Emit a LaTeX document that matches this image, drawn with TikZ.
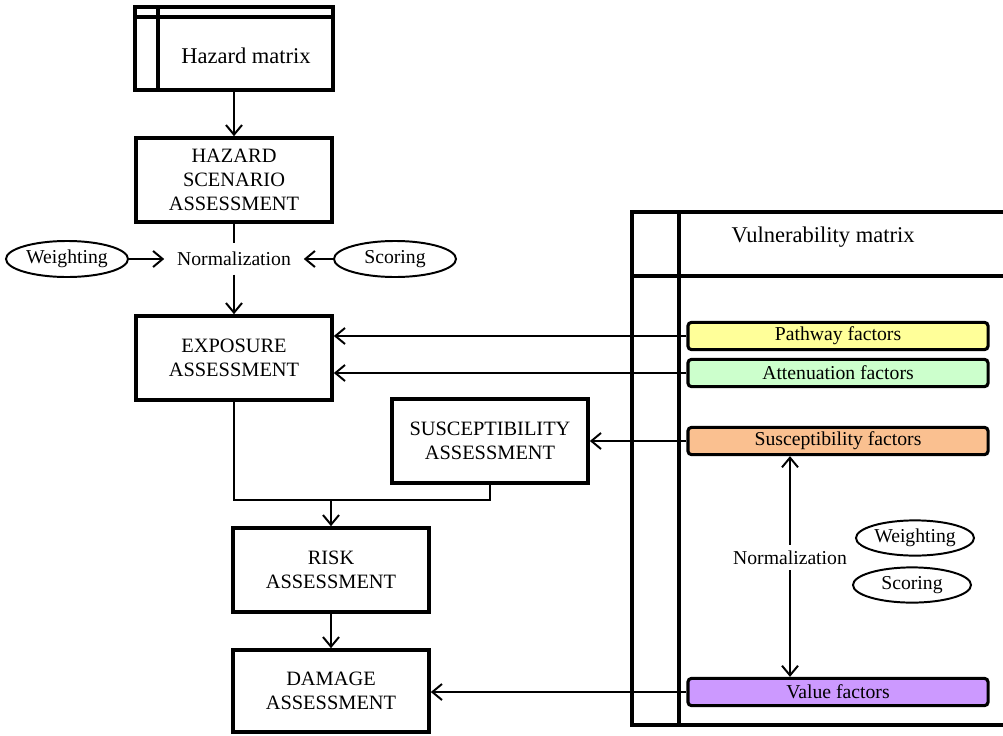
\documentclass[tikz,border=0pt]{standalone}
\usepackage{fontspec}
\setmainfont{Liberation Serif}
\usetikzlibrary{arrows.meta,shapes.geometric}
\definecolor{pathyellow}{RGB}{255,255,153}
\definecolor{attgreen}{RGB}{204,255,204}
\definecolor{susorange}{RGB}{250,192,144}
\definecolor{valpurple}{RGB}{204,153,255}

\begin{document}
\begin{tikzpicture}[x=0.025cm,y=-0.025cm,
  line/.style={line width=1.4pt,>={Straight Barb[length=2.4mm,width=4mm]}},
  frame/.style={line width=2.6pt},
  box/.style={rectangle,draw=black,line width=2.6pt,minimum width=4.9cm,minimum height=2.1cm,align=center,inner sep=0pt,font=\fontsize{14.5}{17}\selectfont},
  fac/.style={rectangle,rounded corners=2.5pt,draw=black,line width=2.2pt,minimum width=7.5cm,minimum height=0.68cm,inner sep=0pt,font=\fontsize{14}{16}\selectfont},
  ov/.style={ellipse,draw=black,line width=1.4pt,minimum width=3.05cm,minimum height=0.9cm,inner sep=0pt,font=\fontsize{14}{16}\selectfont},
  lbl/.style={fill=white,inner xsep=9pt,inner ysep=6pt,font=\fontsize{14}{16}\selectfont},
  ttl/.style={font=\fontsize{16}{18}\selectfont}]
\useasboundingbox (0,0) rectangle (1003,735);

% hazard side
\node[box,minimum width=4.95cm,minimum height=2.075cm] (hm) at (234,48.5) {};
\draw[frame] ([xshift=0.625cm]hm.north west) -- ([xshift=0.625cm]hm.south west);
\draw[frame] ([yshift=-0.3cm]hm.north west) -- ([yshift=-0.3cm]hm.north east);
\node[ttl] (hmt) at (246,56) {Hazard matrix};

\node[box] (hsa) at (234,180) {HAZARD\\SCENARIO\\ASSESSMENT};
\node[lbl] (norm) at (234,259) {Normalization};
\node[ov] (wl) at (67,259) {Weighting};
\node[ov] (sl) at (395,259) {Scoring};
\node[box] (exp) at (234,358) {EXPOSURE\\ASSESSMENT};
\node[box] (sus) at (490,441) {SUSCEPTIBILITY\\ASSESSMENT};
\node[box] (risk) at (331,570) {RISK\\ASSESSMENT};
\node[box,minimum height=2.05cm] (dam) at (331,691) {DAMAGE\\ASSESSMENT};
\coordinate (j) at (331,500);

\draw[line,->] (hm) -- (hsa);
\draw[line] (hsa) -- (norm);
\draw[line,->] (norm) -- (exp);
\draw[line,->] (wl) -- (norm);
\draw[line,->] (sl) -- (norm);
\draw[line] (exp.south) |- (j) -| (sus.south);
\draw[line,->] (j) -- (risk);
\draw[line,->] (risk) -- (dam);

% vulnerability matrix
\draw[frame] (1003,212) -- (632,212) -- (632,725) -- (1003,725);
\draw[frame] (679,212) -- (679,725);
\draw[frame] (632,276) -- (1003,276);
\node[ttl] (vmt) at (823,237) {Vulnerability matrix};

\node[fac,fill=pathyellow] (pf) at (838,336) {Pathway factors};
\node[fac,fill=attgreen] (af) at (838,373) {Attenuation factors};
\node[fac,fill=susorange] (sf) at (838,441) {Susceptibility factors};
\node[fac,fill=valpurple] (vf) at (838,692) {Value factors};
\node[ov,minimum width=2.95cm,minimum height=0.88cm] (wr) at (915,538) {Weighting};
\node[ov,minimum width=2.95cm,minimum height=0.88cm] (sr) at (912,585) {Scoring};

\draw[line,->] (pf) -- (pf -| exp.east);
\draw[line,->] (af) -- (af -| exp.east);
\draw[line,->] (sf) -- (sus);
\draw[line,->] (vf) -- (vf -| dam.east);
\draw[line,<->] ([xshift=-1.2cm]sf.south) -- node[lbl,pos=0.46,inner ysep=4pt] (nr) {Normalization} ([xshift=-1.2cm]vf.north);
\end{tikzpicture}
\end{document}
